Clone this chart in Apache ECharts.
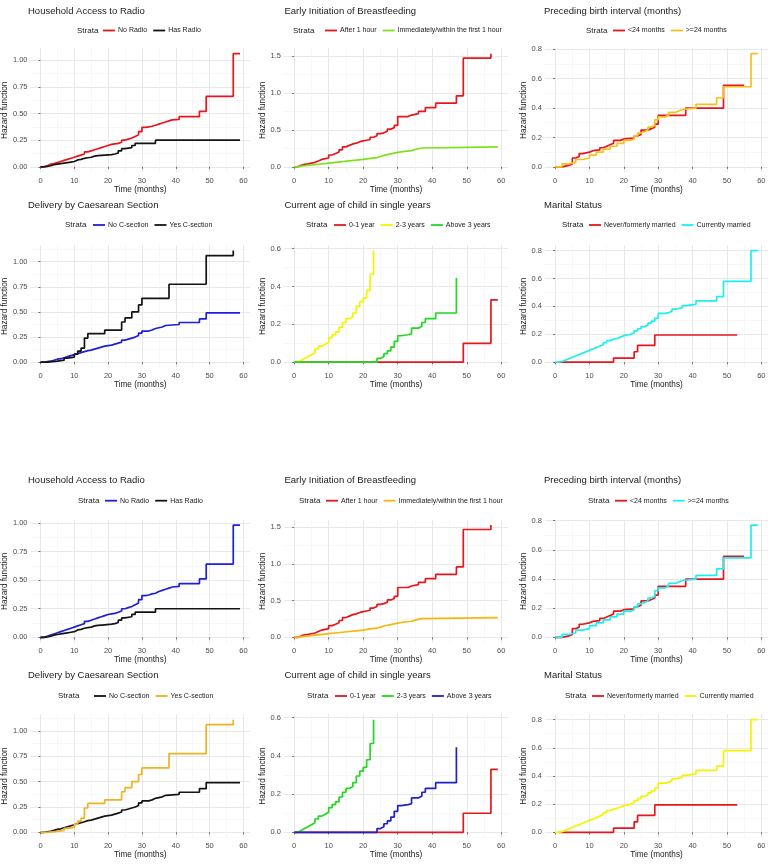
<!DOCTYPE html>
<html>
<head>
<meta charset="utf-8">
<script src="https://cdn.jsdelivr.net/npm/echarts@6/dist/echarts.min.js"></script>
<style>
  html, body { margin: 0; padding: 0; background: #fff; }
  #chart { width: 775px; height: 866px; }
</style>
</head>
<body>
<div id="chart"></div>
<script>
// ---- data (time in months, cumulative hazard) ----
const radioNoTop = [[0,0],[1,0.01],[2,0.025],[3,0.03],[4,0.04],[5,0.05],[6,0.06],[7,0.07],[8,0.08],[9,0.09],[10,0.1],[11,0.11],[12,0.12],[13,0.14],[14,0.15],[15,0.16],[16,0.17],[17,0.18],[18,0.19],[19,0.2],[20,0.21],[21,0.215],[22,0.22],[23,0.23],[24,0.25],[25,0.26],[26,0.27],[27,0.285],[28,0.3],[29,0.33],[30,0.37],[31,0.375],[32,0.38],[33,0.39],[34,0.4],[35,0.41],[36,0.42],[37,0.43],[38,0.44],[39,0.445],[41,0.47],[47,0.52],[49,0.66],[57,1.06],[59,1.06]]
const radioNoBottom = [[0,0],[1,0.01],[2,0.02],[3,0.03],[4,0.04],[5,0.05],[6,0.06],[7,0.07],[8,0.08],[9,0.09],[10,0.1],[11,0.11],[12,0.12],[13,0.14],[14,0.15],[15,0.16],[16,0.17],[17,0.18],[18,0.19],[19,0.2],[20,0.205],[21,0.21],[22,0.22],[23,0.23],[24,0.25],[25,0.26],[26,0.27],[27,0.285],[28,0.3],[29,0.33],[30,0.365],[31,0.37],[32,0.38],[33,0.385],[34,0.4],[35,0.41],[36,0.42],[37,0.43],[38,0.44],[39,0.445],[41,0.47],[47,0.51],[49,0.64],[57,0.98],[59,0.98]]
const radioHas = [[0,0],[1,0.005],[2,0.01],[3,0.02],[4,0.025],[5,0.03],[6,0.035],[7,0.04],[8,0.045],[9,0.05],[10,0.065],[11,0.07],[12,0.08],[13,0.085],[14,0.09],[15,0.1],[16,0.105],[17,0.11],[19,0.115],[21,0.12],[22,0.13],[23,0.15],[24,0.17],[25,0.18],[27,0.2],[28,0.22],[34,0.25],[59,0.25]]

const bfAfter = [[0,0],[1,0.02],[2,0.035],[3,0.04],[4,0.05],[5,0.06],[6,0.08],[7,0.1],[8,0.11],[9,0.12],[10,0.16],[11,0.18],[12,0.2],[13,0.23],[14,0.27],[15,0.29],[16,0.31],[17,0.32],[18,0.34],[19,0.35],[20,0.36],[21,0.37],[22,0.4],[23,0.42],[24,0.45],[25,0.46],[26,0.48],[27,0.51],[28,0.53],[29,0.56],[30,0.68],[33,0.7],[34,0.72],[36,0.75],[38,0.8],[41,0.86],[47,0.96],[49,1.47],[57,1.53]]
const bfImmediate = [[0,0],[1,0.01],[2,0.015],[3,0.02],[4,0.025],[5,0.03],[6,0.035],[7,0.04],[8,0.045],[9,0.05],[10,0.06],[12,0.07],[14,0.08],[16,0.09],[18,0.1],[20,0.115],[22,0.125],[24,0.14],[25,0.155],[26,0.165],[27,0.175],[28,0.185],[29,0.195],[30,0.21],[32,0.22],[34,0.235],[35,0.255],[37,0.27],[59,0.27]]

const birthShort = [[0,0],[2,0.01],[4,0.02],[5,0.06],[6,0.07],[7,0.09],[8,0.1],[10,0.11],[11,0.115],[13,0.13],[14,0.14],[15,0.15],[16,0.16],[17,0.18],[19,0.19],[20,0.195],[23,0.21],[24,0.22],[25,0.25],[27,0.26],[28,0.27],[29,0.29],[30,0.35],[38,0.4],[49,0.555],[55,0.555]]
const birthLong = [[0,0],[2,0.02],[4,0.03],[6,0.05],[8,0.06],[10,0.08],[12,0.1],[14,0.12],[16,0.14],[18,0.16],[20,0.18],[22,0.19],[23,0.21],[24,0.23],[25,0.24],[26,0.25],[27,0.27],[28,0.28],[29,0.32],[30,0.34],[32,0.35],[33,0.37],[35,0.38],[36,0.39],[37,0.4],[41,0.425],[47,0.47],[49,0.545],[57,0.77],[59,0.77]]

const csNo = [[0,0],[1,0.005],[2,0.01],[3,0.02],[4,0.03],[5,0.035],[6,0.045],[7,0.055],[8,0.065],[9,0.075],[10,0.085],[11,0.095],[12,0.105],[13,0.115],[14,0.12],[15,0.13],[16,0.14],[17,0.15],[18,0.16],[19,0.165],[20,0.17],[21,0.18],[22,0.19],[23,0.2],[24,0.22],[25,0.23],[26,0.24],[27,0.25],[28,0.265],[29,0.29],[30,0.31],[32,0.32],[33,0.335],[34,0.35],[36,0.365],[37,0.375],[41,0.395],[47,0.43],[49,0.49],[59,0.49]]
const csYes = [[0,0],[2,0.01],[5,0.02],[7,0.04],[8,0.05],[10,0.08],[11,0.11],[12,0.14],[13,0.24],[14,0.285],[19,0.32],[24,0.4],[25,0.44],[27,0.5],[29,0.57],[30,0.635],[38,0.775],[49,1.06],[57,1.11]]

const ageYoung = [[0,0],[49,0.1],[57,0.33],[59,0.33]]
const ageMid = [[0,0],[1,0.01],[2,0.02],[3,0.03],[4,0.04],[5,0.05],[6,0.07],[7,0.085],[8,0.095],[9,0.105],[10,0.13],[11,0.145],[12,0.16],[13,0.185],[14,0.21],[15,0.23],[16,0.24],[17,0.26],[18,0.295],[19,0.32],[20,0.34],[21,0.38],[22,0.465],[23,0.59]]
const ageOld = [[0,0],[24,0.02],[25,0.03],[26,0.045],[27,0.06],[28,0.08],[29,0.11],[30,0.14],[31,0.145],[33,0.15],[34,0.18],[36,0.19],[37,0.21],[38,0.23],[41,0.26],[47,0.445]]

const maritalNever = [[1,0],[17,0.03],[23,0.075],[24,0.12],[29,0.195],[53,0.195]]
const maritalCurrent = [[0,0],[1,0.005],[2,0.015],[3,0.025],[4,0.035],[5,0.045],[6,0.055],[7,0.065],[8,0.075],[9,0.085],[10,0.095],[11,0.105],[12,0.115],[13,0.125],[14,0.14],[15,0.155],[16,0.165],[17,0.17],[18,0.18],[19,0.19],[20,0.195],[21,0.2],[22,0.21],[23,0.225],[24,0.24],[25,0.255],[26,0.265],[27,0.28],[28,0.295],[29,0.315],[30,0.35],[32,0.355],[33,0.365],[34,0.38],[35,0.385],[36,0.39],[37,0.405],[38,0.415],[41,0.44],[47,0.47],[49,0.58],[57,0.8],[59,0.8]]

// tick labels
const xTicks = [0, 10, 20, 30, 40, 50, 60]
const yTicksQuarter = [0, 0.25, 0.5, 0.75, 1.0]
const yTicksHalf = [0, 0.5, 1.0, 1.5]
const yTicksFifth = [0, 0.2, 0.4, 0.6, 0.8]

const titles = [
  'Household Access to Radio', 'Early Initiation of Breastfeeding', 'Preceding birth interval (months)',
  'Delivery by Caesarean Section', 'Current age of child in single years', 'Marital Status'
]
const radioLabels = ['No Radio', 'Has Radio']
const bfLabels = ['After 1 hour', 'Immediately/within the first 1 hour']
const birthLabels = ['<24 months', '>=24 months']
const csLabels = ['No C-section', 'Yes C-section']
const ageLabels = ['0-1 year', '2-3 years', 'Above 3 years']
const maritalLabels = ['Never/formerly married', 'Currently married']

// ---- styles ----
const RED = '#e6161c', BLACK = '#141414', LIME = '#7fe11a', GOLD = '#f5c21c',
  BLUE = '#1f1fd8', YELLOW = '#f4f400', GREEN = '#22d822', CYAN = '#1eeeee',
  ORANGE = '#f4b80c', AMBER = '#eeb224', NAVY = '#2020c4'
const FONT = '"Liberation Sans", Arial, sans-serif'

const panels = [
  { title: titles[0], labels: radioLabels, data: [radioNoTop, radioHas], colors: [RED, BLACK], ticks: yTicksQuarter, dec: 2 },
  { title: titles[1], labels: bfLabels, data: [bfAfter, bfImmediate], colors: [RED, LIME], ticks: yTicksHalf, dec: 1 },
  { title: titles[2], labels: birthLabels, data: [birthShort, birthLong], colors: [RED, GOLD], ticks: yTicksFifth, dec: 1 },
  { title: titles[3], labels: csLabels, data: [csNo, csYes], colors: [BLUE, BLACK], ticks: yTicksQuarter, dec: 2 },
  { title: titles[4], labels: ageLabels, data: [ageYoung, ageMid, ageOld], colors: [RED, YELLOW, GREEN], ticks: yTicksFifth.slice(0, 4), dec: 1 },
  { title: titles[5], labels: maritalLabels, data: [maritalNever, maritalCurrent], colors: [RED, CYAN], ticks: yTicksFifth, dec: 1 },
  { title: titles[0], labels: radioLabels, data: [radioNoBottom, radioHas], colors: [BLUE, BLACK], ticks: yTicksQuarter, dec: 2 },
  { title: titles[1], labels: bfLabels, data: [bfAfter, bfImmediate], colors: [RED, ORANGE], ticks: yTicksHalf, dec: 1 },
  { title: titles[2], labels: birthLabels, data: [birthShort, birthLong], colors: [RED, CYAN], ticks: yTicksFifth, dec: 1 },
  { title: titles[3], labels: csLabels, data: [csNo, csYes], colors: [BLACK, AMBER], ticks: yTicksQuarter, dec: 2 },
  { title: titles[4], labels: ageLabels, data: [ageYoung, ageMid, ageOld], colors: [RED, GREEN, NAVY], ticks: yTicksFifth.slice(0, 4), dec: 1 },
  { title: titles[5], labels: maritalLabels, data: [maritalNever, maritalCurrent], colors: [RED, YELLOW], ticks: yTicksFifth, dec: 1 }
]

// layout (px)
const cols = [{ l: 29, r: 250 }, { l: 284, r: 508 }, { l: 545, r: 768 }]
const rows = [{ t: 48, b: 172.5 }, { t: 245, b: 367.8 }, { t: 519.5, b: 643 }, { t: 714, b: 838 }]
const titleX = [28, 284.5, 544]
const titleTop = [6, 200.5, 475.5, 670.5]
const legendY = [31.5, 226, 501.7, 697]
const strataX = [77, 293, 586, 65, 306, 562, 78, 299, 588, 58, 307, 565]
const legendX = [103, 325, 613, 93, 334, 589, 105, 326, 615, 94, 335, 592]
const yNameGap = [14, 11, 13]

const option = {
  animation: false,
  backgroundColor: '#fff',
  title: [], legend: [], grid: [], xAxis: [], yAxis: [], series: []
}
const minorX = [], minorY = []

panels.forEach((p, i) => {
  const col = i % 3, row = Math.floor(i / 3)
  const allT = p.data.flatMap(s => s.map(d => d[0]))
  const allH = p.data.flatMap(s => s.map(d => d[1]))
  const tMax = Math.max(...allT), hMax = Math.max(...allH)
  const xMin = -0.05 * tMax, xMax = 1.05 * tMax
  const yMin = -0.05 * hMax, yMax = 1.05 * hMax
  const step = p.ticks[1] - p.ticks[0]
  const yMinorVals = [p.ticks[0] - step / 2, ...p.ticks.map(v => v + step / 2)].filter(v => v > yMin && v < yMax)
  const xMinorVals = [-5, ...xTicks.map(v => v + 5)].filter(v => v > xMin && v < xMax)

  option.grid.push({
    left: cols[col].l, top: rows[row].t,
    width: cols[col].r - cols[col].l, height: rows[row].b - rows[row].t
  })

  option.title.push({
    text: p.title, left: titleX[col], top: titleTop[row], padding: 0,
    textStyle: { fontFamily: FONT, fontSize: 9.5, fontWeight: 'normal', color: '#1a1a1a' }
  })
  option.title.push({
    text: 'Strata', left: strataX[i], top: legendY[row] - 5, padding: 0,
    textStyle: { fontFamily: FONT, fontSize: 8, fontWeight: 'normal', color: '#1a1a1a' }
  })

  const names = p.labels.map(l => l + '#' + i)
  option.legend.push({
    data: names.map(n => ({ name: n, icon: 'rect' })),
    left: legendX[i], top: legendY[row] - 4.5, padding: 0,
    itemWidth: 12, itemHeight: 1.8, itemGap: 6, selectedMode: false,
    formatter: n => n.split('#')[0],
    textStyle: { fontFamily: FONT, fontSize: 7, color: '#1a1a1a', padding: [0, 0, 0, -2] }
  })

  option.xAxis.push({
    type: 'value', gridIndex: i, min: xMin, max: xMax,
    name: 'Time (months)', nameLocation: 'middle', nameGap: 12,
    nameTextStyle: { fontFamily: FONT, fontSize: 8.2, color: '#1a1a1a' },
    axisLine: { show: false },
    axisTick: { show: true, length: 2, customValues: xTicks, lineStyle: { color: '#4d4d4d', width: 0.8 } },
    axisLabel: { customValues: xTicks, margin: 4, fontFamily: FONT, fontSize: 7.5, color: '#4d4d4d' },
    splitLine: { show: true, lineStyle: { color: '#e8e8e8', width: 1 } }
  })
  option.yAxis.push({
    type: 'value', gridIndex: i, min: yMin, max: yMax,
    name: 'Hazard function', nameLocation: 'middle', nameGap: yNameGap[col],
    nameTextStyle: { fontFamily: FONT, fontSize: 8.2, color: '#1a1a1a' },
    axisLine: { show: false },
    axisTick: { show: true, length: 2, customValues: p.ticks, lineStyle: { color: '#4d4d4d', width: 0.8 } },
    axisLabel: {
      customValues: p.ticks, margin: 3, fontFamily: FONT, fontSize: 7.5, color: '#4d4d4d',
      formatter: v => Number(v).toFixed(p.dec)
    },
    splitLine: { show: true, lineStyle: { color: '#e8e8e8', width: 1 } }
  })
  // minor grid lines on a second, label-less axis pair
  minorX.push({
    type: 'value', gridIndex: i, min: xMin, max: xMax, position: 'bottom',
    axisLine: { show: false }, axisLabel: { show: false },
    axisTick: { show: false, customValues: xMinorVals },
    splitLine: { show: true, lineStyle: { color: '#f2f2f2', width: 0.6 } }
  })
  minorY.push({
    type: 'value', gridIndex: i, min: yMin, max: yMax, position: 'left',
    axisLine: { show: false }, axisLabel: { show: false },
    axisTick: { show: false, customValues: yMinorVals },
    splitLine: { show: true, lineStyle: { color: '#f2f2f2', width: 0.6 } }
  })

  p.data.forEach((d, k) => {
    option.series.push({
      type: 'line', name: names[k], step: 'end', symbol: 'none',
      xAxisIndex: i, yAxisIndex: i, data: d, z: 3 + k,
      color: p.colors[k],
      lineStyle: { color: p.colors[k], width: 1.7 }
    })
  })
})

option.xAxis = option.xAxis.concat(minorX)
option.yAxis = option.yAxis.concat(minorY)

const chart = echarts.init(document.getElementById('chart'))
chart.setOption(option)
</script>
</body>
</html>
